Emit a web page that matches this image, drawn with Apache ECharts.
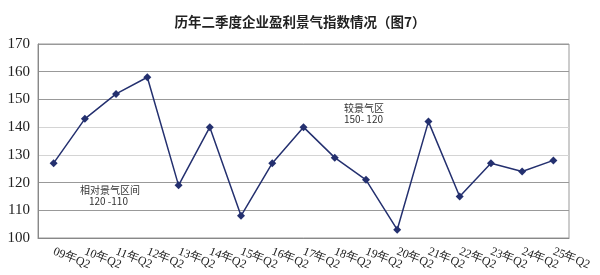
<!DOCTYPE html>
<html><head><meta charset="utf-8">
<script src="https://cdn.jsdelivr.net/npm/echarts@6/dist/echarts.min.js"></script>
<style>html,body{margin:0;padding:0;background:#fff}#c{width:600px;height:275px}</style>
</head><body><div id="c"></div>
<script>
var categories = ['09年Q2','10年Q2','11年Q2','12年Q2','13年Q2','14年Q2','15年Q2','16年Q2','17年Q2','18年Q2','19年Q2','20年Q2','21年Q2','22年Q2','23年Q2','24年Q2','25年Q2'];
var values = [127,143,152,158,119,140,108,127,140,129,121,103,142,115,127,124,128];
var yTicks = [100,110,120,130,140,150,160,170];

var chart = echarts.init(document.getElementById('c'), null, {renderer:'canvas'});
chart.setOption({
  animation:false,
  backgroundColor:'#fff',
  title:{text:'历年二季度企业盈利景气指数情况（图7）', left:'center', top:10,
    textStyle:{fontFamily:'Noto Sans CJK SC', fontSize:13.5, fontWeight:'bold', color:'#222'}},
  grid:{left:38, right:31, top:44, bottom:37, show:true, borderColor:'#999', borderWidth:1},
  xAxis:{type:'category', data:categories, boundaryGap:true,
    axisLine:{lineStyle:{color:'#888'}},
    axisTick:{inside:true, length:5, lineStyle:{color:'#888'}},
    axisLabel:{rotate:-22, margin:13, fontFamily:'Liberation Serif', fontSize:12, color:'#222', interval:0}},
  yAxis:{type:'value', min:yTicks[0], max:yTicks[yTicks.length-1], interval:10,
    axisLine:{show:true, lineStyle:{color:'#888'}},
    axisTick:{show:false},
    axisLabel:{fontFamily:'Liberation Serif', fontSize:15, color:'#222', margin:8},
    splitLine:{lineStyle:{color:['#999','#999','#999','#d4d4d4','#d4d4d4','#999','#999','#999'], width:1.2}}},
  series:[{type:'line', data:values, symbol:'diamond', symbolSize:8,
    lineStyle:{color:'#24306f', width:1.5}, itemStyle:{color:'#24306f'}}],
  graphic:[
    {type:'text', left:80, top:185, style:{text:'相对景气区间\n    120 -110', font:'10px "Noto Sans CJK SC"', fill:'#333', lineHeight:11}},
    {type:'text', left:344, top:103, style:{text:'较景气区\n150- 120', font:'10px "Noto Sans CJK SC"', fill:'#333', lineHeight:11, align:'left'}}
  ]
});
</script></body></html>
